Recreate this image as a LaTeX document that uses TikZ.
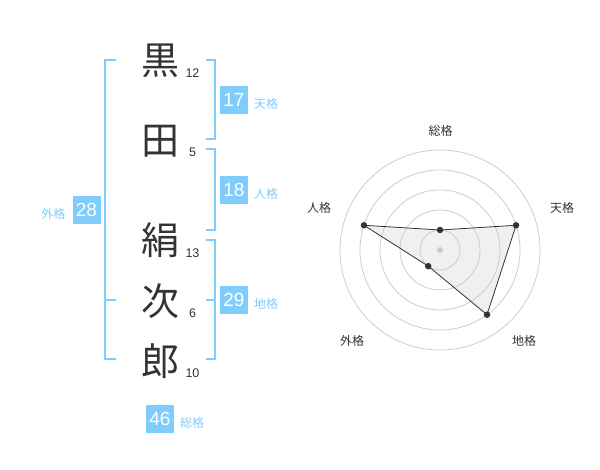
\documentclass[tikz,border=0pt]{standalone}
\usepackage{fontspec}
\setmainfont{Liberation Sans}
\newfontfamily\jp{Noto Sans CJK JP}
\definecolor{sky}{HTML}{80CCFA}
\definecolor{txt}{HTML}{333333}
\begin{document}
\begin{tikzpicture}[x=1pt,y=-1pt,
  kanji/.style={font=\jp\fontsize{38}{38}\selectfont, text=txt, inner sep=0pt},
  strokes/.style={font=\fontsize{12.5}{12.5}\selectfont, text=txt, inner sep=0pt},
  valbox/.style={fill=sky, text=white, minimum width=28pt, minimum height=28pt, inner sep=0pt, font=\fontsize{19}{19}\selectfont},
  kaku/.style={font=\jp\fontsize{12}{12}\selectfont, text=sky, inner sep=0pt},
  bracket/.style={draw=sky, line width=2pt},
  ring/.style={draw=black!20, line width=0.8pt},
  axislab/.style={font=\jp\fontsize{12}{12}\selectfont, text=txt, inner sep=0pt},
  dot/.style={circle, fill=txt, inner sep=0pt, minimum size=6.5pt},
  hub/.style={circle, fill=black!20, inner sep=0pt, minimum size=6pt}]
\useasboundingbox (0,0) rectangle (600,470);
% name characters
\node[kanji] (k1) at (160,61) {黒};
\node[kanji] (k2) at (160,141.5) {田};
\node[kanji] (k3) at (160,240) {絹};
\node[kanji] (k4) at (160,301) {次};
\node[kanji] (k5) at (160,361) {郎};
% stroke counts
\node[strokes] (n1) at (192.5,72.7) {12};
\node[strokes] (n2) at (192.5,152.7) {5};
\node[strokes] (n3) at (192.5,252.7) {13};
\node[strokes] (n4) at (192.5,312.7) {6};
\node[strokes] (n5) at (192.5,372.7) {10};
% brackets
\draw[bracket] (116,60) -- (105,60) -- (105,359.3) -- (116,359.3);
\draw[bracket] (105,300) -- (116,300);
\draw[bracket] (205.5,60) -- (214.5,60) -- (214.5,139.3) -- (205.5,139.3);
\draw[bracket] (205.5,149.3) -- (214.5,149.3) -- (214.5,230) -- (205.5,230);
\draw[bracket] (205.5,240) -- (214.5,240) -- (214.5,359.3) -- (205.5,359.3);
\draw[bracket] (205.5,300) -- (214.5,300);
% value boxes
\node[valbox] (b1) at (234,100) {17};
\node[kaku] (l1) at (266,103.5) {天格};
\node[valbox] (b2) at (234,190) {18};
\node[kaku] (l2) at (266,193.5) {人格};
\node[valbox] (b3) at (234,300) {29};
\node[kaku] (l3) at (266,303.5) {地格};
\node[valbox] (b4) at (86.5,210) {28};
\node[kaku] (l4) at (53.5,213.5) {外格};
\node[valbox] (b5) at (160,419) {46};
\node[kaku] (l5) at (192,422.5) {総格};
% radar chart
\coordinate (S) at (440,230);
\coordinate (T) at ({440+80*cos(18)},{250-80*sin(18)});
\coordinate (C) at ({440+80*cos(54)},{250+80*sin(54)});
\coordinate (G) at ({440-20*cos(54)},{250+20*sin(54)});
\coordinate (J) at ({440-80*cos(18)},{250-80*sin(18)});
\fill[black!6] (S) -- (T) -- (C) -- (G) -- (J) -- cycle;
\foreach \r in {20,40,60,80,100} \draw[ring] (440,250) circle (\r);
\node[hub] (O) at (440,250) {};
\draw[txt, line width=0.8pt, line join=round] (S) -- (T) -- (C) -- (G) -- (J) -- cycle;
\node[dot] (dS) at (S) {};
\node[dot] (dT) at (T) {};
\node[dot] (dC) at (C) {};
\node[dot] (dG) at (G) {};
\node[dot] (dJ) at (J) {};
\node[axislab] (aS) at (440.5,131) {総格};
\node[axislab] (aT) at (562,208) {天格};
\node[axislab] (aJ) at (319,208) {人格};
\node[axislab] (aG) at (352,341) {外格};
\node[axislab] (aC) at (524,341) {地格};
\end{tikzpicture}
\end{document}
